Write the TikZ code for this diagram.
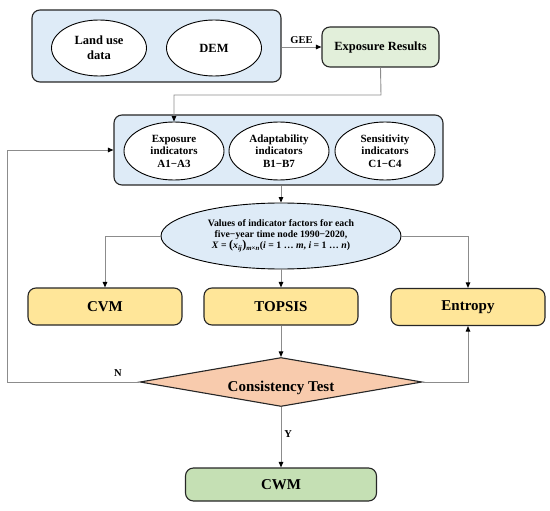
\documentclass[tikz,border=0pt]{standalone}
\usepackage{fontspec}
\setmainfont{Liberation Serif}
\usetikzlibrary{shapes.geometric,arrows.meta}
\definecolor{bluefill}{HTML}{DEEBF7}
\definecolor{greenlt}{HTML}{E2EFDA}
\definecolor{greenmd}{HTML}{C5E0B4}
\definecolor{yellowfill}{HTML}{FFE699}
\definecolor{orangefill}{HTML}{F8CBAD}
\definecolor{edge}{HTML}{262626}
\definecolor{linegray}{HTML}{8C8C8C}
\tikzset{
  box/.style={draw=edge, line width=1.1pt, rounded corners=8pt, inner sep=0pt, align=center, font=\bfseries},
  oval/.style={draw=black, line width=0.9pt, ellipse, fill=white, inner sep=0pt, align=center, font=\bfseries},
  conn/.style={draw=linegray, line width=0.9pt, -{Triangle[length=5.5pt,width=4.5pt,black]}},
  lbl/.style={font=\bfseries\fontsize{10.5}{12}\selectfont, inner sep=1pt}
}
\begin{document}
\begin{tikzpicture}[x=1pt,y=-1pt]
\useasboundingbox (0,0) rectangle (550,511);
% top group
\node[box, fill=bluefill, minimum width=249pt, minimum height=72pt] (top) at (156.5,46) {};
\node[oval, minimum width=95pt, minimum height=56pt, font=\bfseries\fontsize{12.5}{15}\selectfont] (land) at (99,48) {Land use\\data};
\node[oval, minimum width=95pt, minimum height=56pt, font=\bfseries\fontsize{12.5}{15}\selectfont] (dem) at (214,48) {DEM};
\node[box, fill=greenlt, minimum width=117pt, minimum height=40pt, font=\bfseries\fontsize{12.5}{15}\selectfont] (expres) at (380.5,47) {Exposure Results};
% middle group
\node[box, fill=bluefill, minimum width=329pt, minimum height=70pt] (mid) at (278.5,150) {};
\node[oval, minimum width=100pt, minimum height=58pt, font=\bfseries\fontsize{11}{12.5}\selectfont] (e1) at (174,151) {Exposure\\indicators\\A1−A3};
\node[oval, minimum width=100pt, minimum height=58pt, font=\bfseries\fontsize{11}{12.5}\selectfont] (e2) at (279,151) {Adaptability\\indicators\\B1−B7};
\node[oval, minimum width=100pt, minimum height=58pt, font=\bfseries\fontsize{11}{12.5}\selectfont] (e3) at (385,151) {Sensitivity\\indicators\\C1−C4};
% values
\node[oval, fill=bluefill, minimum width=240pt, minimum height=66pt, font=\bfseries\fontsize{9.8}{11}\selectfont] (vals) at (281,236)
  {Values of indicator factors for each\\five−year time node 1990−2020,\\
   \textit{X} = {\fontsize{12}{10}\selectfont(}\textit{x}\textsubscript{\textit{ij}}{\fontsize{12}{10}\selectfont)}\textsubscript{\textit{m}×\textit{n}}(\textit{i} = 1 … \textit{m}, \textit{i} = 1 … \textit{n})};
% methods
\node[box, fill=yellowfill, minimum width=154pt, minimum height=37pt, font=\bfseries\fontsize{15}{18}\selectfont] (cvm) at (105,306.5) {CVM};
\node[box, fill=yellowfill, minimum width=154pt, minimum height=37pt, font=\bfseries\fontsize{15}{18}\selectfont] (topsis) at (281,306.5) {TOPSIS};
\node[box, fill=yellowfill, minimum width=154pt, minimum height=37pt, font=\bfseries\fontsize{15}{18}\selectfont] (entropy) at (468,307) {Entropy};
% consistency test
\node[diamond, draw=edge, line width=1.1pt, fill=orangefill, minimum width=282pt, minimum height=49pt, inner sep=0pt] (cons) at (281,382) {};
\node[font=\bfseries\fontsize{15}{18}\selectfont, inner sep=0pt] (constext) at (281,388) {Consistency Test};
% CWM
\node[box, fill=greenmd, minimum width=191pt, minimum height=33pt, font=\bfseries\fontsize{15}{18}\selectfont] (cwm) at (281,484.5) {CWM};
% connectors
\draw[conn] (top.east |- expres.west) -- (expres.west) node[lbl, midway, above=2pt] {GEE};
\coordinate (bend1) at (381,95);
\draw[conn] (expres.south) -- (bend1) -| (e1.north);
\draw[conn] (vals.north |- mid.south) -- (vals.north);
\draw[conn] (vals.west) -| (cvm.north);
\draw[conn] (vals.east) -| (entropy.north);
\draw[conn] (vals.south) -- (topsis.north);
\draw[conn] (topsis.south) -- (cons.north);
\coordinate (lft) at (7,382);
\draw[conn] (cons.west) -- (lft) |- (mid.west);
\node[lbl] (nlab) at (118,373) {N};
\draw[conn] (cons.east) -| (entropy.south);
\draw[conn] (cons.south) -- (cwm.north) node[lbl, pos=0.45, right=2pt] {Y};
\end{tikzpicture}
\end{document}
